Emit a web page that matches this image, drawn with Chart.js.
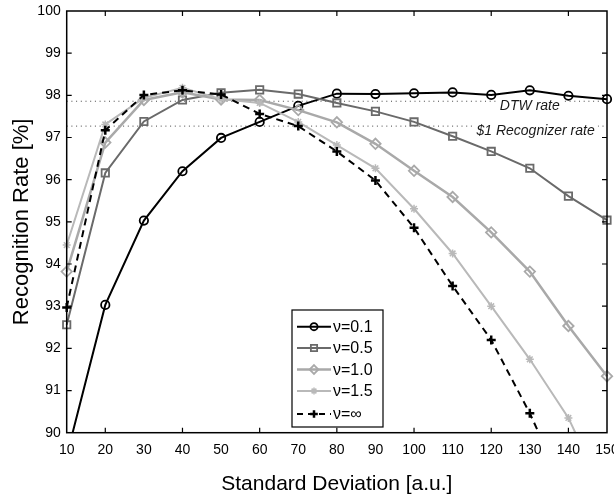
<!DOCTYPE html>
<html><head><meta charset="utf-8">
<script src="https://cdn.jsdelivr.net/npm/chart.js@4.4.1/dist/chart.umd.min.js"></script>
<style>html,body{margin:0;padding:0;background:#fff;}#wrap{width:614px;height:500px;position:relative;}</style>
</head><body><div id="wrap"><canvas id="c"></canvas></div>
<script>
// ---- data ----
const stdDev = [10, 20, 30, 40, 50, 60, 70, 80, 90, 100, 110, 120, 130, 140, 150];
const nu01 = [89.45, 93.03, 95.03, 96.20, 96.99, 97.37, 97.75, 98.04, 98.03, 98.05, 98.07, 98.01, 98.12, 97.99, 97.91];
const nu05 = [92.56, 96.16, 97.38, 97.89, 98.06, 98.13, 98.03, 97.82, 97.62, 97.37, 97.03, 96.67, 96.27, 95.61, 95.04];
const nu10 = [93.82, 96.88, 97.89, 98.07, 97.90, 97.89, 97.65, 97.36, 96.85, 96.21, 95.59, 94.75, 93.82, 92.53, 91.34];
const nu15 = [94.45, 97.31, 97.94, 98.18, 97.91, 97.82, 97.37, 96.82, 96.27, 95.31, 94.25, 93.00, 91.74, 90.35, 88.40];
const nuInf = [92.97, 97.17, 98.01, 98.12, 98.02, 97.56, 97.27, 96.67, 95.98, 94.86, 93.48, 92.20, 90.46, 88.45, 86.00];
const dtwRate = 97.86;
const dollarRate = 97.27;
const seriesNames = ['\u03bd=0.1', '\u03bd=0.5', '\u03bd=1.0', '\u03bd=1.5', '\u03bd=\u221e'];
const xTickLabels = ['10','20','30','40','50','60','70','80','90','100','110','120','130','140','150'];
const yTickLabels = ['90','91','92','93','94','95','96','97','98','99','100'];

const FONT = '"Liberation Sans", Arial, Helvetica, sans-serif';
const pts = arr => stdDev.map((x, i) => ({x: x, y: arr[i]}));

const styles = [
  {color: '#000000', width: 2,   dash: [],     marker: 'circle',  r: 4.2, mw: 1.8},
  {color: '#6a6a6a', width: 2,   dash: [],     marker: 'rect',    r: 5.2, mw: 1.8},
  {color: '#a9a9a9', width: 2.5, dash: [],     marker: 'rectRot', r: 5.2, mw: 1.8},
  {color: '#b9b9b9', width: 2,   dash: [],     marker: 'star',    r: 4,   mw: 1.5},
  {color: '#000000', width: 2,   dash: [7, 5], marker: 'cross',   r: 4.5, mw: 2.5}
];
const seriesData = [nu01, nu05, nu10, nu15, nuInf];

const datasets = seriesData.map((arr, i) => ({
  label: seriesNames[i],
  data: pts(arr),
  borderColor: styles[i].color,
  borderWidth: styles[i].width,
  borderDash: styles[i].dash,
  pointStyle: styles[i].marker,
  pointRadius: styles[i].r,
  pointBorderWidth: styles[i].mw,
  pointBorderColor: styles[i].color,
  pointBackgroundColor: 'rgba(0,0,0,0)',
  tension: 0,
  fill: false,
  order: 5 - i,
  clip: {left: 8, top: 0, right: 8, bottom: 0}
}));
datasets.push({
  label: 'DTW', data: [{x: 10, y: dtwRate}, {x: 150, y: dtwRate}],
  borderColor: '#444', borderWidth: 1, borderDash: [1, 3.7], pointRadius: 0, order: 20
});
datasets.push({
  label: '$1', data: [{x: 10, y: dollarRate}, {x: 150, y: dollarRate}],
  borderColor: '#444', borderWidth: 1, borderDash: [1, 3.7], pointRadius: 0, order: 20
});

function marker(ctx, style, x, y, r) {
  ctx.beginPath();
  if (style === 'circle') { ctx.arc(x, y, r, 0, Math.PI * 2); }
  else if (style === 'rect') { const s = r * Math.SQRT1_2; ctx.rect(x - s, y - s, 2 * s, 2 * s); }
  else if (style === 'rectRot') { ctx.moveTo(x, y - r); ctx.lineTo(x + r, y); ctx.lineTo(x, y + r); ctx.lineTo(x - r, y); ctx.closePath(); }
  else if (style === 'cross') { ctx.moveTo(x, y - r); ctx.lineTo(x, y + r); ctx.moveTo(x - r, y); ctx.lineTo(x + r, y); }
  else if (style === 'star') {
    ctx.moveTo(x, y - r); ctx.lineTo(x, y + r); ctx.moveTo(x - r, y); ctx.lineTo(x + r, y);
    const d = r * Math.SQRT1_2;
    ctx.moveTo(x - d, y - d); ctx.lineTo(x + d, y + d); ctx.moveTo(x - d, y + d); ctx.lineTo(x + d, y - d);
  }
  ctx.stroke();
}

const framePlugin = {
  id: 'frame',
  afterDatasetsDraw(chart) {
    const ctx = chart.ctx, xs = chart.scales.x, ys = chart.scales.y;
    ctx.save();
    ctx.font = 'italic 14px ' + FONT;
    ctx.textBaseline = 'middle';
    ctx.textAlign = 'center';
    const labs = [['DTW rate', 130, dtwRate, 5], ['$1 Recognizer rate', 131.5, dollarRate, 4.5]];
    labs.forEach(l => {
      const px = xs.getPixelForValue(l[1]);
      const py = ys.getPixelForValue(l[2]) + l[3];
      const w = ctx.measureText(l[0]).width;
      ctx.fillStyle = '#fff';
      ctx.fillRect(px - w / 2 - 3, py - 8, w + 6, 15);
      ctx.fillStyle = '#1a1a1a';
      ctx.fillText(l[0], px, py);
    });
    ctx.restore();
  },
  afterDraw(chart) {
    const ctx = chart.ctx, ca = chart.chartArea, xs = chart.scales.x, ys = chart.scales.y;
    ctx.save();
    ctx.strokeStyle = '#000';
    ctx.lineWidth = 1.5;
    ctx.strokeRect(ca.left, ca.top, ca.right - ca.left, ca.bottom - ca.top);
    ctx.lineWidth = 1.2;
    ctx.beginPath();
    for (let v = 91; v <= 99; v++) {
      const py = ys.getPixelForValue(v);
      ctx.moveTo(ca.left, py); ctx.lineTo(ca.left + 5, py);
      ctx.moveTo(ca.right, py); ctx.lineTo(ca.right - 5, py);
    }
    for (let v = 20; v <= 140; v += 20) {
      const px = xs.getPixelForValue(v);
      ctx.moveTo(px, ca.bottom); ctx.lineTo(px, ca.bottom - 5);
      ctx.moveTo(px, ca.top); ctx.lineTo(px, ca.top + 5);
    }
    ctx.stroke();

    // legend
    const bx = 292, by = 310, bw = 91, bh = 117;
    ctx.fillStyle = '#fff';
    ctx.fillRect(bx, by, bw, bh);
    ctx.lineWidth = 1.2;
    ctx.strokeStyle = '#000';
    ctx.strokeRect(bx, by, bw, bh);
    const rows = [326.7, 348, 369.5, 391, 414];
    ctx.font = '16px ' + FONT;
    ctx.textBaseline = 'middle';
    ctx.textAlign = 'left';
    styles.forEach((s, i) => {
      const y = rows[i];
      ctx.strokeStyle = s.color;
      ctx.lineWidth = s.width;
      ctx.setLineDash(s.dash.length ? [6, 5] : []);
      ctx.beginPath(); ctx.moveTo(297, y); ctx.lineTo(331, y); ctx.stroke();
      ctx.setLineDash([]);
      ctx.lineWidth = s.mw;
      marker(ctx, s.marker, 314, y, s.r * 0.85);
      ctx.fillStyle = '#000';
      ctx.fillText(seriesNames[i], 333, y + 1);
    });
    ctx.restore();
  }
};

new Chart(document.getElementById('c'), {
  type: 'line',
  data: {datasets: datasets},
  options: {
    responsive: true,
    maintainAspectRatio: false,
    animation: false,
    events: [],
    layout: {padding: {top: 11, right: 6.7, left: 0, bottom: 0}},
    plugins: {legend: {display: false}, tooltip: {enabled: false}},
    scales: {
      x: {
        type: 'linear', min: 10, max: 150,
        grid: {display: false, drawTicks: false},
        border: {display: false},
        ticks: {
          stepSize: 10, padding: 9, color: '#000', font: {size: 14, family: FONT},
          maxRotation: 0, autoSkip: false,
          callback: (v) => { const i = stdDev.indexOf(v); return i >= 0 ? xTickLabels[i] : ''; }
        },
        title: {display: true, text: 'Standard Deviation [a.u.]', color: '#000', font: {size: 21, family: FONT}, padding: {top: 0, bottom: 3}},
        afterFit: (s) => { s.height = 67.3; s.paddingLeft = 0; s.paddingRight = 0; }
      },
      y: {
        type: 'linear', min: 90, max: 100,
        grid: {display: false, drawTicks: false},
        border: {display: false},
        ticks: {
          stepSize: 1, padding: 6, color: '#000', font: {size: 14, family: FONT},
          callback: (v) => { const i = v - 90; return (i >= 0 && i < yTickLabels.length) ? yTickLabels[i] : ''; }
        },
        title: {display: true, text: 'Recognition Rate [%]', color: '#000', font: {size: 22, family: FONT}, padding: {top: 9, bottom: 0}},
        afterFit: (s) => { s.width = 66.7; s.paddingTop = 0; s.paddingBottom = 0; }
      }
    }
  },
  plugins: [framePlugin]
});
</script>
</body></html>
